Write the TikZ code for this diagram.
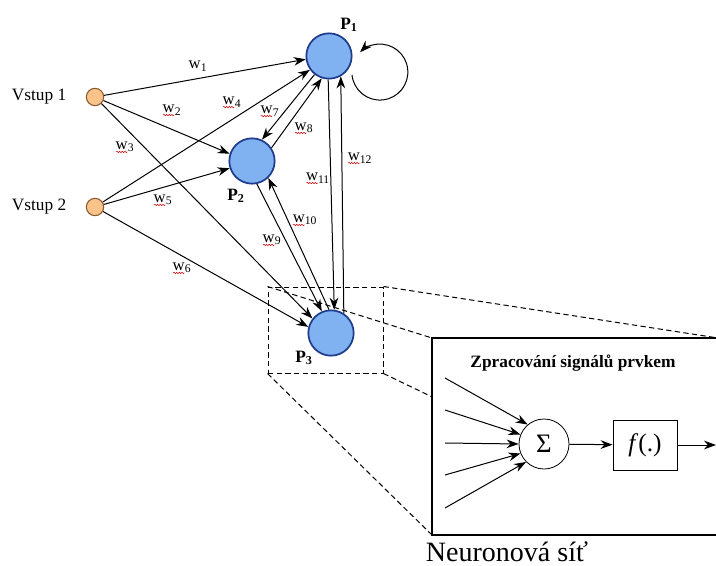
\documentclass[tikz,border=0pt]{standalone}
\usepackage{fontspec}
\setmainfont{Liberation Serif}
\usetikzlibrary{arrows.meta,decorations.pathmorphing}
\definecolor{neuronfill}{RGB}{128,178,242}
\definecolor{neuronedge}{RGB}{32,60,140}
\definecolor{inputfill}{RGB}{250,195,140}
\definecolor{inputedge}{RGB}{140,90,40}

\begin{document}
\begin{tikzpicture}[x=0.75pt,y=-0.75pt,
	neuron/.style={circle,draw=neuronedge,fill=neuronfill,line width=1.3pt,minimum size=34pt,inner sep=0pt},
	input/.style={circle,draw=inputedge,fill=inputfill,line width=0.8pt,minimum size=13pt,inner sep=0pt},
	syn/.style={-{Stealth[length=9pt,width=6.5pt]},line width=0.75pt},
	wlab/.style={font=\fontsize{12.5}{14}\selectfont,inner sep=0pt},
	plab/.style={font=\fontsize{13}{15}\selectfont\bfseries,inner sep=0pt},
	spell/.style={red!80!black,line width=0.4pt,decorate,decoration={snake,amplitude=0.5pt,segment length=2pt}},
	zoomline/.style={dash pattern=on 4pt off 2.5pt,line width=0.75pt}]
			%%%%% START %%%%%
			\useasboundingbox (0,0) rectangle (716,566);
			
			\node[input] (V1) at (95,97) {};
			\node[input] (V2) at (95,207) {};
			\node[anchor=east,font=\fontsize{13}{15}\selectfont] (vs1) at (71,97) {Vstup 1};
			\node[anchor=east,font=\fontsize{13}{15}\selectfont] (vs2) at (71,207) {Vstup 2};
			
			\node[neuron] (P1) at (329,56) {};
			\node[neuron] (P2) at (252,161) {};
			\node[neuron] (P3) at (331,333) {};
			\node[plab] (p1) at (349,25) {P\textsubscript{1}};
			\node[plab] (p2) at (236,196) {P\textsubscript{2}};
			\node[plab] (p3) at (304,358) {P\textsubscript{3}};
			
			\draw[syn] (V1) -- (P1.188);
			\draw[syn] (V1) -- (P2.162);
			\draw[syn] (V1) -- (P3.142);
			\draw[syn] (V2) -- (P1.216);
			\draw[syn] (V2) -- (P2.198);
			\draw[syn] (V2) -- (P3.165);
			\draw[syn] (P1.232) -- (P2.65);
			\draw[syn] (P2.34) -- (P1.252);
			\draw[syn] (P2.282) -- (P3.113);
			\draw[syn] (P3.95) -- (P2.314);
			\draw[syn] (P1.268) -- (P3.82);
			\draw[syn] (P3.57) -- (P1.300);
			\draw[syn] (P1) ++(23,19) arc[start angle=174,end angle=-135,radius=28];
			
			\node[wlab] (w1) at (198,66) {w\textsubscript{1}};
			\node[wlab] (w2) at (172,110) {w\textsubscript{2}};
			\node[wlab] (w3) at (125,147) {w\textsubscript{3}};
			\node[wlab] (w4) at (232,102) {w\textsubscript{4}};
			\node[wlab] (w5) at (163,200) {w\textsubscript{5}};
			\node[wlab] (w6) at (182,268) {w\textsubscript{6}};
			\node[wlab] (w7) at (270,111) {w\textsubscript{7}};
			\node[wlab] (w8) at (304,128) {w\textsubscript{8}};
			\node[wlab] (w9) at (272,240) {w\textsubscript{9}};
			\node[wlab] (w10) at (305,220) {w\textsubscript{10}};
			\node[wlab] (w11) at (318,178) {w\textsubscript{11}};
			\node[wlab] (w12) at (360,158) {w\textsubscript{12}};
			\foreach \n in {2,...,12}
				\draw[spell] ([shift={(0.5pt,-1.8pt)}]w\n.base west) -- ++(8.5pt,0pt);
			
			%%%%% ZOOM %%%%%
			\node[draw,zoomline,minimum width=86.25pt,minimum height=64.5pt,inner sep=0pt] (zoom) at (325.5,330) {};
			\coordinate (bNW) at (432,338);
			\coordinate (bNE) at (718,338);
			\coordinate (bSW) at (432,535);
			\coordinate (bSE) at (718,535);
			\draw[zoomline] (zoom.north west) -- (bNW);
			\draw[zoomline] (zoom.north east) -- (bNE);
			\draw[zoomline] (zoom.south west) -- (bSW);
			\draw[zoomline] (zoom.south east) -- (bSE);
			\draw[fill=white,line width=0.8pt] (bNW) rectangle (bSE);
			
			\node[font=\fontsize{13}{15}\selectfont\bfseries] (title) at (573,363) {Zpracování signálů prvkem};
			\node[circle,draw,line width=0.6pt,minimum size=37.5pt,inner sep=0pt,font=\fontsize{20}{22}\selectfont] (sum) at (544,444) {Σ};
			\node[draw,line width=0.6pt,minimum width=48pt,minimum height=37.5pt,font=\fontsize{19}{21}\selectfont] (act) at (645,445) {\textit{f}(.)};
			\coordinate (out) at (716,445);
			\foreach \i/\y/\a in {1/378/130,2/410/158,3/443/180,4/475/202,5/508/225} {
				\coordinate (in\i) at (445,\y);
				\draw[syn] (in\i) -- (sum.\a);
			}
			\draw[syn] (sum) -- (act);
			\draw[syn] (act) -- (out);
			
			\node[font=\fontsize{21}{24}\selectfont] (cap) at (507,552) {Neuronová síť};
			%%%%% END %%%%%
\end{tikzpicture}
\end{document}
